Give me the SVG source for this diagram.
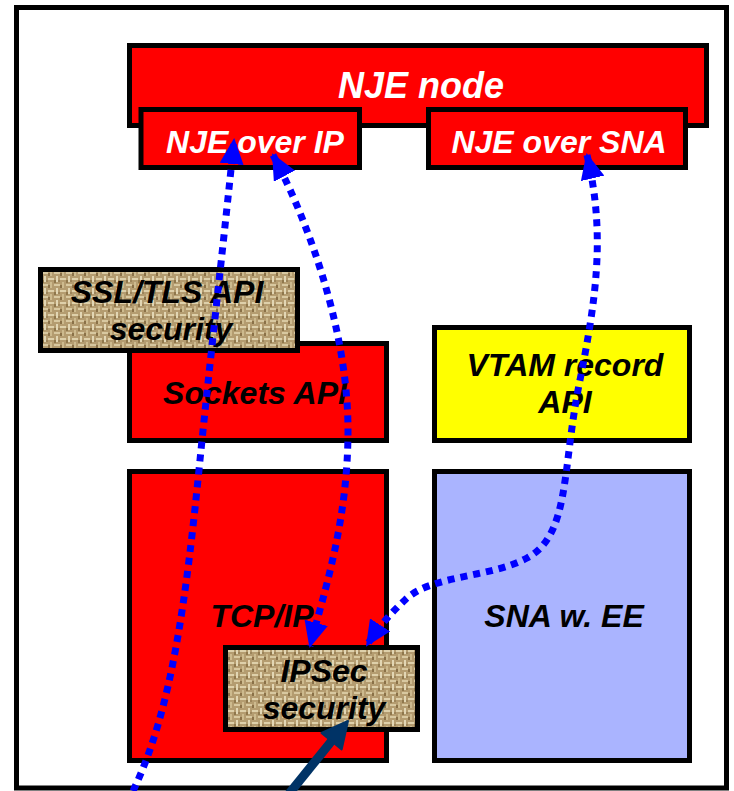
<svg xmlns="http://www.w3.org/2000/svg" width="734" height="791" viewBox="0 0 734 791">
<style>
.box{stroke:#000;stroke-width:5}
.red{fill:#FF0000}
.t{font-family:"Liberation Sans",Arial,sans-serif;font-weight:bold;font-style:italic;font-size:32px;text-anchor:middle}
.w{fill:#fff}
.k{fill:#000}
.dot{fill:none;stroke:#0000FF;stroke-width:7;stroke-dasharray:7 6}
</style>
<defs>
<pattern id="burlap" width="12" height="12" patternUnits="userSpaceOnUse">
<rect width="12" height="12" fill="#B49C70"/>
<rect x="0" y="2" width="6" height="2" fill="#DED0AA"/>
<rect x="6" y="8" width="6" height="2" fill="#D8C8A0"/>
<rect x="2" y="6" width="2" height="6" fill="#CDBA8E"/>
<rect x="8" y="0" width="2" height="6" fill="#E2D6B4"/>
<rect x="0" y="9" width="2" height="3" fill="#8A7148"/>
<rect x="6" y="4" width="2" height="3" fill="#8F774C"/>
<rect x="10" y="4" width="2" height="2" fill="#9C845A"/>
</pattern>
<marker id="ah" markerUnits="userSpaceOnUse" markerWidth="26" markerHeight="24" refX="24" refY="12" orient="auto-start-reverse" viewBox="0 0 26 24">
<path d="M0,0 L26,12 L0,24 Z" fill="#0000FF"/>
</marker>
</defs>
<rect x="0" y="0" width="734" height="791" fill="#fff"/>
<rect x="16.5" y="7.5" width="710" height="780.5" fill="#fff" stroke="#000" stroke-width="5"/>

<g id="nje-node">
<rect class="box red" x="129.5" y="45.5" width="577" height="80"/>
<text class="t w" x="421" y="98" style="font-size:36px">NJE node</text>
</g>
<g id="nje-over-ip">
<rect class="box red" x="141" y="109.5" width="218.5" height="58"/>
<text class="t w" x="255" y="153">NJE over IP</text>
</g>
<g id="nje-over-sna">
<rect class="box red" x="428.5" y="109.5" width="257" height="58"/>
<text class="t w" x="559" y="153">NJE over SNA</text>
</g>
<g id="sockets-api">
<rect class="box red" x="129.5" y="343.5" width="257" height="97"/>
<text class="t k" x="255" y="404">Sockets API</text>
</g>
<g id="ssl-tls">
<rect class="box" fill="url(#burlap)" x="40.5" y="269.5" width="257" height="81"/>
<text class="t k" x="167" y="303">SSL/TLS API</text>
<text class="t k" x="171" y="340">security</text>
</g>
<g id="tcpip">
<rect class="box red" x="129.5" y="471.5" width="257" height="289"/>
<text class="t k" x="262" y="627">TCP/IP</text>
</g>
<g id="ipsec">
<rect class="box" fill="url(#burlap)" x="225.5" y="647.5" width="192" height="82"/>
<text class="t k" x="324" y="682">IPSec</text>
<text class="t k" x="324" y="719">security</text>
</g>
<g id="vtam">
<rect class="box" fill="#FFFF00" x="434.5" y="327.5" width="255" height="113"/>
<text class="t k" x="565" y="376">VTAM record</text>
<text class="t k" x="565" y="413">API</text>
</g>
<g id="sna-ee">
<rect class="box" fill="#AAB4FF" x="434.5" y="471.5" width="255" height="289"/>
<text class="t k" x="564" y="627">SNA w. EE</text>
</g>

<g id="connectors">
<path class="dot" d="M133,791 C172,710 186,600 200,460 C210,360 225,230 234,140" marker-end="url(#ah)"/>
<path class="dot" d="M273,155 C300,205 348,320 348,430 C348,520 325,590 310,646" marker-start="url(#ah)" marker-end="url(#ah)"/>
<path class="dot" d="M587,155 C606,235 596,300 579,385 C562,470 570,535 527,558 C490,578 430,575 405,600 C392,612 380,625 367,645" marker-start="url(#ah)" marker-end="url(#ah)"/>
<line x1="288" y1="795" x2="334" y2="738" stroke="#003366" stroke-width="9"/>
<polygon points="348,721 341.7,749.4 321.5,733" fill="#003366" stroke="#003366" stroke-width="2" stroke-linejoin="round"/>
</g>
</svg>
